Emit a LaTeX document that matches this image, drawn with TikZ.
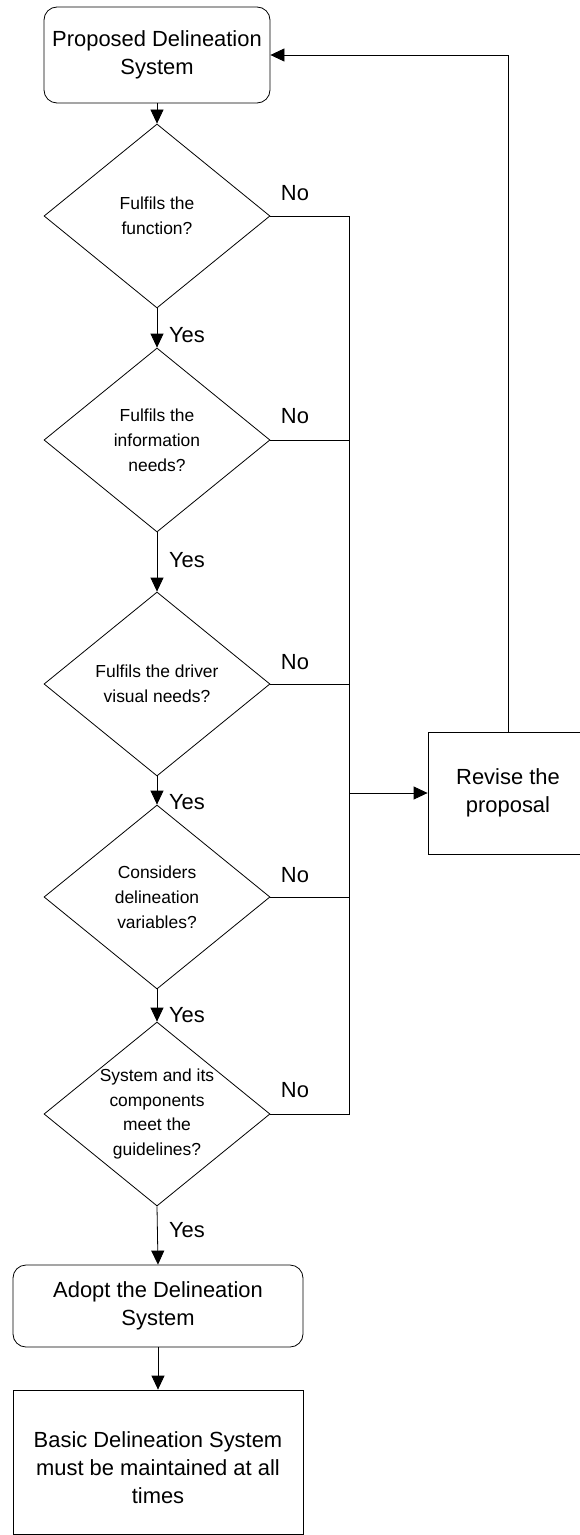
\documentclass[tikz,border=0pt]{standalone}
\usepackage{fontspec}
\setmainfont{Liberation Sans}
\usetikzlibrary{arrows.meta,shapes.geometric}
\begin{document}
\begin{tikzpicture}[x=1bp,y=-1bp,
  line width=0.8bp,
  big/.style={font=\fontsize{22}{28}\selectfont, align=center, inner sep=0pt},
  small/.style={font=\fontsize{17.5}{25}\selectfont, align=center, inner sep=0pt},
  rbox/.style={draw, rounded corners=13bp, inner sep=0pt},
  sbox/.style={draw, inner sep=0pt},
  dec/.style={draw, diamond, minimum width=226bp, minimum height=184bp, inner sep=0pt},
  arr/.style={-{Triangle[length=14bp,width=13bp]}},
]
\useasboundingbox (0,0) rectangle (580,1535);
\clip (0,0) rectangle (580,1535);

% boxes
\node[rbox, minimum width=226bp, minimum height=96bp] (top) at (157,55) {};
\node[big] at (top) {Proposed Delineation\\System};

\node[dec] (d1) at (157,216) {};
\node[small] at (d1) {Fulfils the\\function?};
\node[dec] (d2) at (157,440) {};
\node[small] at (d2) {Fulfils the\\information\\needs?};
\node[dec] (d3) at (157,684) {};
\node[small] at (d3) {Fulfils the driver\\visual needs?};
\node[dec] (d4) at (157,897) {};
\node[small] at (d4) {Considers\\delineation\\variables?};
\node[dec] (d5) at (157,1114) {};
\node[small] at (d5) {System and its\\components\\meet the\\guidelines?};

\node[rbox, minimum width=290bp, minimum height=82bp] (adopt) at (158,1306) {};
\node[big] at (adopt) {Adopt the Delineation\\System};

\node[sbox, minimum width=290bp, minimum height=144bp] (basic) at (158,1462) {};
\node[big] at (158,1468) {Basic Delineation System\\must be maintained at all\\times};

\node[sbox, minimum width=160bp, minimum height=122bp] (rev) at (508,793) {};
\node[big] at (rev) {Revise the\\proposal};

% main flow
\draw[arr] (top.south) -- (d1.north);
\draw[arr] (d1.south) -- (d2.north);
\draw[arr] (d2.south) -- (d3.north);
\draw[arr] (d3.south) -- (d4.north);
\draw[arr] (d4.south) -- (d5.north);
\draw[arr] (d5.south) -- (adopt.north);
\draw[arr] (adopt.south) -- (basic.north);

% Yes labels
\node[big] (y1) at (187,335) {Yes};
\node[big] (y2) at (187,560) {Yes};
\node[big] (y3) at (187,802) {Yes};
\node[big] (y4) at (187,1015) {Yes};
\node[big] (y5) at (187,1230) {Yes};

% No branches
\coordinate (bt) at (349,216);
\coordinate (bb) at (349,1114);
\draw (d1.east) -- (bt) -- (bb) -- (d5.east);
\draw (d2.east) -- (d2.east -| bt);
\draw (d3.east) -- (d3.east -| bt);
\draw (d4.east) -- (d4.east -| bt);
\node[big] (n1) at (295,193) {No};
\node[big] (n2) at (295,416) {No};
\node[big] (n3) at (295,662) {No};
\node[big] (n4) at (295,875) {No};
\node[big] (n5) at (295,1090) {No};

\draw[arr] (rev.west -| bt) -- (rev.west);
\draw[arr] (rev.north) |- (top.east);
\end{tikzpicture}
\end{document}
